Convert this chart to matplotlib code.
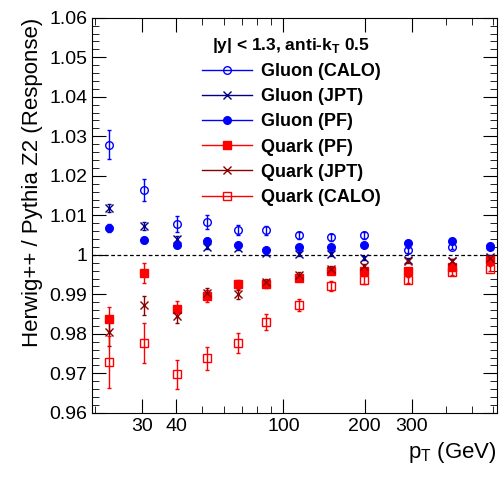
import matplotlib
matplotlib.use("Agg")
import matplotlib.pyplot as plt
from matplotlib.lines import Line2D
from matplotlib.ticker import FixedLocator, NullFormatter, MultipleLocator

plt.rcParams['font.family'] = ['Liberation Sans', 'DejaVu Sans']

pt = [22.5, 30.3, 40.2, 51.9, 67.6, 86.5, 114.6, 150.6, 199.5, 290, 423, 585]

g_calo = [1.0279, 1.0165, 1.0078, 1.0083, 1.0062, 1.0062, 1.0049, 1.0044, 1.0049, 1.0011, 1.0021, 1.0022]
g_calo_e = [0.0037, 0.0028, 0.0020, 0.0018, 0.0013, 0.0012, 0.0010, 0.0009, 0.0008, 0.0007, 0.0007, 0.0007]
g_jpt = [1.0119, 1.0074, 1.0040, 1.0021, 1.0018, 1.0005, 1.0003, 1.0002, 0.9992, 0.9986, 0.9985, 0.9994]
g_jpt_e = [0.0010, 0.0010, 0.0008, 0.0007, 0.0006, 0.0006, 0.0005, 0.0005, 0.0005, 0.0005, 0.0005, 0.0005]
g_pf = [1.0068, 1.0037, 1.0026, 1.0036, 1.0024, 1.0013, 1.0019, 1.0019, 1.0024, 1.0030, 1.0035, 1.0020]
g_pf_e = [0.0009, 0.0008, 0.0007, 0.0006, 0.0005, 0.0005, 0.0004, 0.0004, 0.0004, 0.0004, 0.0004, 0.0004]
q_pf = [0.9838, 0.9954, 0.9863, 0.9896, 0.9925, 0.9927, 0.9941, 0.9958, 0.9960, 0.9960, 0.9970, 0.9986]
q_pf_e = [0.0030, 0.0025, 0.0020, 0.0015, 0.0012, 0.0010, 0.0008, 0.0007, 0.0006, 0.0005, 0.0005, 0.0005]
q_jpt = [0.9804, 0.9872, 0.9846, 0.9904, 0.9900, 0.9930, 0.9949, 0.9965, 0.9971, 0.9985, 0.9985, 0.9993]
q_jpt_e = [0.0035, 0.0025, 0.0018, 0.0013, 0.0011, 0.0009, 0.0007, 0.0006, 0.0005, 0.0005, 0.0005, 0.0005]
q_calo = [0.9729, 0.9777, 0.9698, 0.9738, 0.9777, 0.9831, 0.9873, 0.9921, 0.9936, 0.9937, 0.9957, 0.9965]
q_calo_e = [0.0065, 0.0050, 0.0037, 0.0030, 0.0025, 0.0020, 0.0014, 0.0012, 0.0010, 0.0008, 0.0007, 0.0007]

series = [
    ("Gluon (CALO)", g_calo, g_calo_e, "#0000ff", "o", "none"),
    ("Gluon (JPT)", g_jpt, g_jpt_e, "#00008b", "x", None),
    ("Gluon (PF)", g_pf, g_pf_e, "#0000ff", "o", None),
    ("Quark (PF)", q_pf, q_pf_e, "#ff0000", "s", None),
    ("Quark (JPT)", q_jpt, q_jpt_e, "#8b0000", "x", None),
    ("Quark (CALO)", q_calo, q_calo_e, "#ff0000", "s", "none"),
]

fig = plt.figure(figsize=(5.0, 4.79), dpi=100)
ax = fig.add_axes([0.184, 0.138, 0.81, 0.825])

handles = []
for name, y, e, c, m, fc in series:
    mfc = fc if fc else c
    ax.errorbar(pt, y, yerr=e, fmt=m, color=c, ms=5.5, mfc=mfc,
                mew=1.0, elinewidth=1.0, capsize=1.5)
    handles.append(Line2D([], [], color=c, marker=m, ms=5.5, mfc=mfc,
                          mew=1.0, lw=1.0, label=name))

ax.axhline(1.0, color="black", ls=(0, (3, 2)), lw=0.9)

ax.set_xscale("log")
ax.set_xlim(19.5, 620)
ax.set_ylim(0.96, 1.06)
ax.xaxis.set_major_locator(FixedLocator([30, 40, 100, 200, 300]))
ax.xaxis.set_major_formatter(matplotlib.ticker.FixedFormatter(["30", "40", "100", "200", "300"]))
ax.xaxis.set_minor_locator(FixedLocator([20, 50, 60, 70, 80, 90, 400, 500, 600]))
ax.xaxis.set_minor_formatter(NullFormatter())
ax.yaxis.set_major_locator(MultipleLocator(0.01))
ax.yaxis.set_minor_locator(MultipleLocator(0.002))
ax.yaxis.set_major_formatter(matplotlib.ticker.FuncFormatter(lambda v, p: f"{v:g}"))
ax.tick_params(which="both", direction="in", top=True, right=True, labelsize=14)
ax.tick_params(which="major", length=10)
ax.tick_params(which="minor", length=5)

ax.set_xlabel("p$_\\mathregular{T}$ (GeV)", fontsize=16, loc="right")
ax.set_ylabel("Herwig++ / Pythia Z2 (Response)", fontsize=16, loc="top")

leg = ax.legend(handles=handles, loc="upper left", bbox_to_anchor=(0.235, 0.99), frameon=False,
                title="|y| < 1.3, anti-k$_\\mathregular{T}$ 0.5", handlelength=2.8,
                prop={"weight": "bold", "size": 13}, labelspacing=0.45, borderpad=0.3,
                handletextpad=0.5)
leg.get_title().set_fontweight("bold")
leg.get_title().set_fontsize(12.5)

fig.savefig("out.png", dpi=100)
